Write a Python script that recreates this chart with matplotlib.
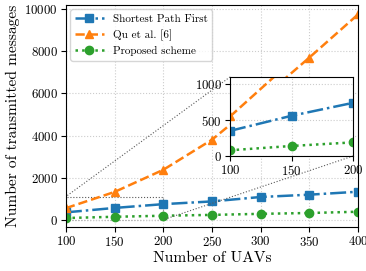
import matplotlib
matplotlib.use("Agg")
import matplotlib.pyplot as plt
from mpl_toolkits.axes_grid1.inset_locator import mark_inset

plt.rcParams['font.family'] = ['cmr10', 'DejaVu Serif']
plt.rcParams['mathtext.fontset'] = 'cm'
plt.rcParams['axes.formatter.use_mathtext'] = True

# data
uavs = [100, 150, 200, 250, 300, 350, 400]
spf = [350, 560, 740, 870, 1080, 1190, 1330]
qu = [550, 1320, 2370, 3800, 5700, 7700, 9750]
proposed = [80, 140, 190, 230, 280, 320, 380]

fig = plt.figure(figsize=(3.66, 2.71), dpi=100)
ax = fig.add_axes((0.180, 0.162, 0.798, 0.8195))


def draw(a, ms=6):
    a.plot(uavs, spf, '-.', marker='s', color='C0', lw=1.8, ms=ms,
           label='Shortest Path First')
    a.plot(uavs, qu, '--', marker='^', color='C1', lw=1.8, ms=ms,
           label='Qu et al. [6]')
    a.plot(uavs, proposed, ':', marker='o', color='C2', lw=1.8, ms=ms,
           label='Proposed scheme')
    a.grid(True, linestyle=':', color='#cccccc', lw=0.8)
    a.tick_params(labelsize=9.2, pad=2.5)


draw(ax)
ax.set_xlim(100, 400)
ax.set_ylim(-350, 10200)
ax.set_xticks([100, 150, 200, 250, 300, 350, 400])
ax.set_yticks([0, 2000, 4000, 6000, 8000, 10000])
ax.set_xlabel('Number of UAVs', fontsize=11.2, labelpad=1)
ax.set_ylabel('Number of transmitted messages', fontsize=11.2, labelpad=3)
ax.legend(loc='upper left', fontsize=8, handlelength=2.6,
          borderaxespad=0.4, framealpha=0.8)

axins = ax.inset_axes((0.562, 0.32, 0.421, 0.356))
draw(axins)
axins.set_xlim(100, 200)
axins.set_ylim(0, 1100)
axins.set_xticks([100, 150, 200])
axins.set_yticks([0, 500, 1000])
mark_inset(ax, axins, loc1=2, loc2=4, fc='none', ec='0.35', ls=':', lw=0.8)

fig.savefig('out.png', dpi=100)
